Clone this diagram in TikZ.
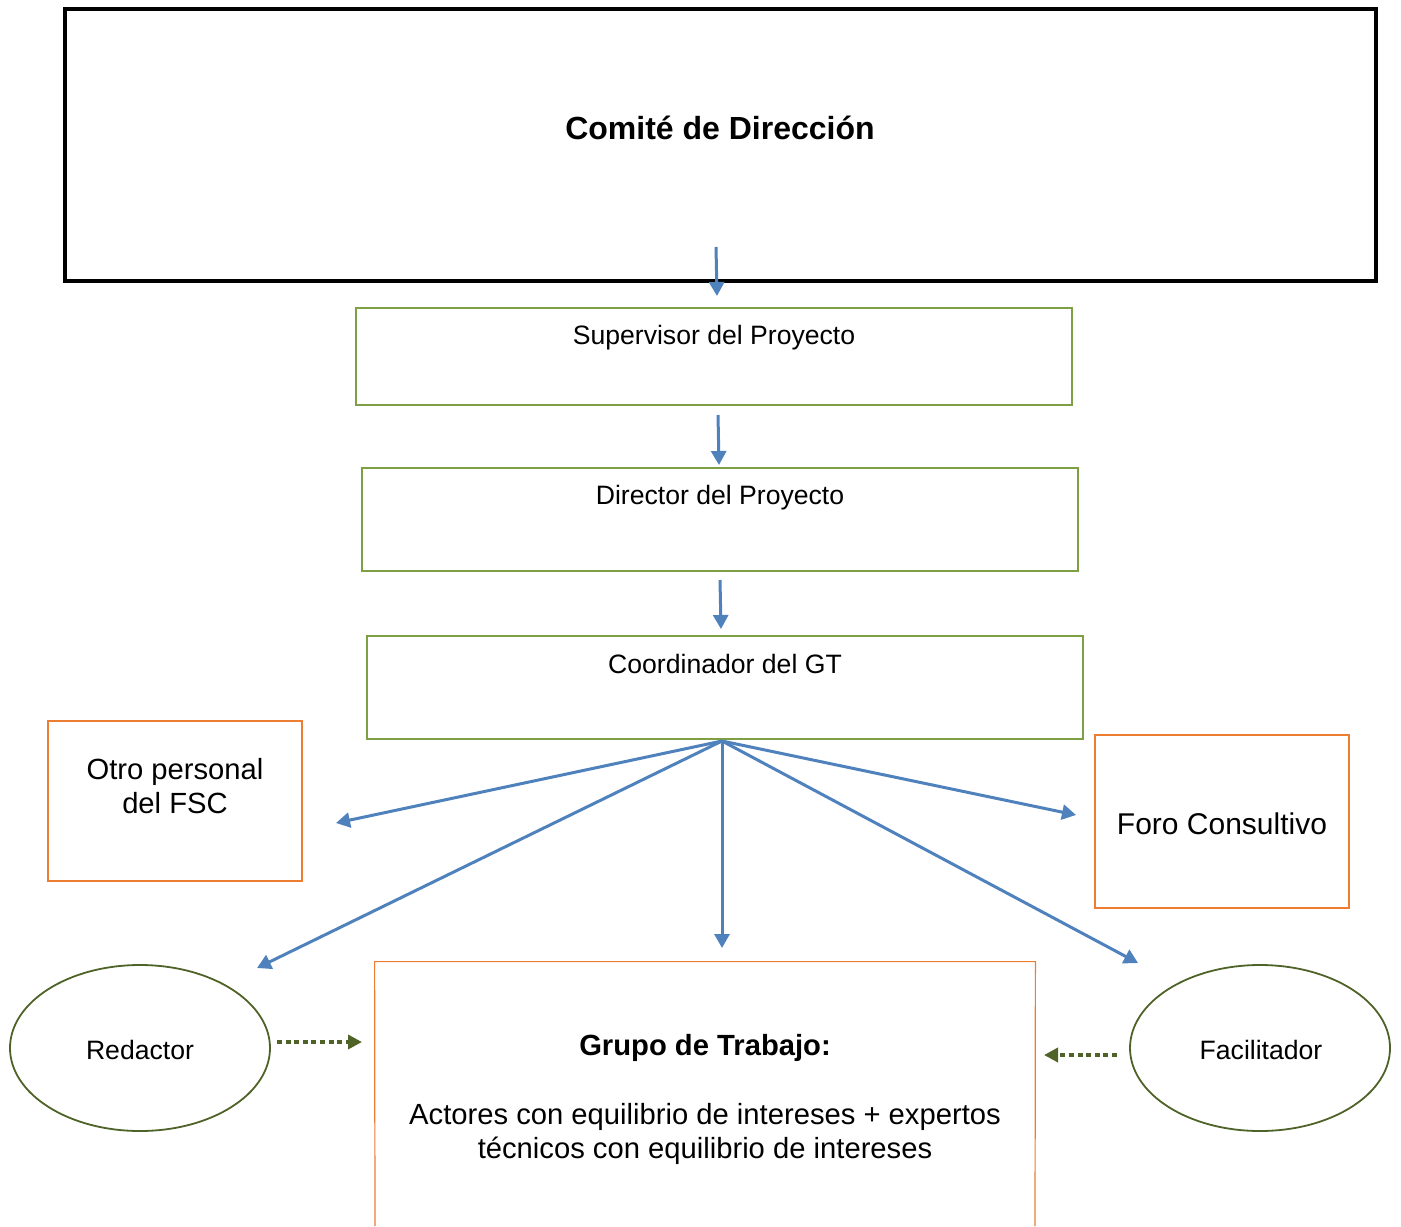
\documentclass[tikz,border=0pt]{standalone}
\usepackage{fontspec}
\setmainfont{Liberation Sans}
\usetikzlibrary{arrows.meta,shapes.geometric}
\definecolor{arrowblue}{HTML}{4F81BD}
\definecolor{boxgreen}{HTML}{7F9F45}
\definecolor{boxorange}{HTML}{ED7D31}
\definecolor{darkolive}{HTML}{4F6228}
\tikzset{
  greenbox/.style={draw=boxgreen, line width=0.6pt, inner sep=0pt},
  orangebox/.style={draw=boxorange, line width=0.6pt, inner sep=0pt},
  olivel/.style={ellipse, draw=darkolive, line width=0.9pt, inner sep=0pt, minimum width=130pt, minimum height=83pt},
  bluearrow/.style={draw=arrowblue, line width=1.5pt, -{Triangle[length=7pt,width=7.5pt]}},
  dotarrow/.style={draw=darkolive, line width=2.2pt, dash pattern=on 2.5pt off 1.8pt, -{Triangle[length=7pt,width=7pt]}},
  txt/.style={inner sep=0pt, font=\fontsize{13.3pt}{16pt}\selectfont},
  bigtxt/.style={inner sep=0pt, align=center, font=\fontsize{14.6pt}{16.8pt}\selectfont},
}
\begin{document}
\begin{tikzpicture}[x=0.5pt,y=-0.5pt]
\useasboundingbox (0,0) rectangle (1401,1226);
% boxes
\node[draw=black, line width=1.6pt, minimum width=655.5pt, minimum height=136pt, inner sep=0pt] (comite) at (720.5,145) {};
\node[inner sep=0pt, font=\bfseries\fontsize{16pt}{19pt}\selectfont] (comitet) at (720,128) {Comité de Dirección};
\node[greenbox, minimum width=358pt, minimum height=48.5pt] (super) at (714,356.5) {};
\node[txt] (supert) at (714,338) {Supervisor del Proyecto};
\node[greenbox, minimum width=358pt, minimum height=51.5pt] (direc) at (720,519.5) {};
\node[txt] (direct) at (720,498) {Director del Proyecto};
\node[greenbox, minimum width=358pt, minimum height=51.5pt] (coord) at (725,687.5) {};
\node[txt] (coordt) at (725,664) {Coordinador del GT};
\node[orangebox, minimum width=127pt, minimum height=80pt] (otro) at (175,801) {};
\node[bigtxt] (otrot) at (175,786) {Otro personal\\del FSC};
\node[orangebox, minimum width=127pt, minimum height=86.5pt] (foro) at (1222,821.5) {};
\node[inner sep=0pt, font=\fontsize{15pt}{18pt}\selectfont] (forot) at (1222,824) {Foro Consultivo};
\node[minimum width=330pt, minimum height=140pt, inner sep=0pt] (grupo) at (705,1102) {};
\draw[draw=boxorange, line width=0.6pt] (375,1226) -- (grupo.north west) -- (grupo.north east) -- (1035,1226);
\node[inner sep=0pt, font=\bfseries\fontsize{14.6pt}{17pt}\selectfont] (grupot) at (705,1048) {Grupo de Trabajo:};
\node[bigtxt] (grupod) at (705,1134) {Actores con equilibrio de intereses + expertos\\técnicos con equilibrio de intereses};
% ellipses
\node[olivel] (redac) at (140,1048) {};
\node[txt] (redact) at (140,1050) {Redactor};
\node[olivel] (facil) at (1260,1048) {};
\node[txt] (facilt) at (1261,1050) {Facilitador};
% arrow coordinates
\coordinate (a1s) at (716,247);
\coordinate (a1e) at (717,296);
\coordinate (a2s) at (718,415);
\coordinate (a2e) at (719,465);
\coordinate (a3s) at (720,580);
\coordinate (a3e) at (721,629);
\coordinate (fan) at (722,741);
\coordinate (eotro) at (336,823);
\coordinate (eredac) at (257,968);
\coordinate (egrupo) at (722,948);
\coordinate (eforo) at (1076,815);
\coordinate (efacil) at (1138,963);
\coordinate (d1s) at (277,1042);
\coordinate (d1e) at (362,1042);
\coordinate (d2s) at (1117,1055);
\coordinate (d2e) at (1044,1055);
% arrows
\draw[bluearrow] (a1s) -- (a1e);
\draw[bluearrow] (a2s) -- (a2e);
\draw[bluearrow] (a3s) -- (a3e);
\draw[bluearrow] (fan) -- (eotro);
\draw[bluearrow] (fan) -- (eredac);
\draw[bluearrow] (fan) -- (egrupo);
\draw[bluearrow] (fan) -- (eforo);
\draw[bluearrow] (fan) -- (efacil);
\draw[dotarrow] (d1s) -- (d1e);
\draw[dotarrow] (d2s) -- (d2e);
\end{tikzpicture}
\end{document}
